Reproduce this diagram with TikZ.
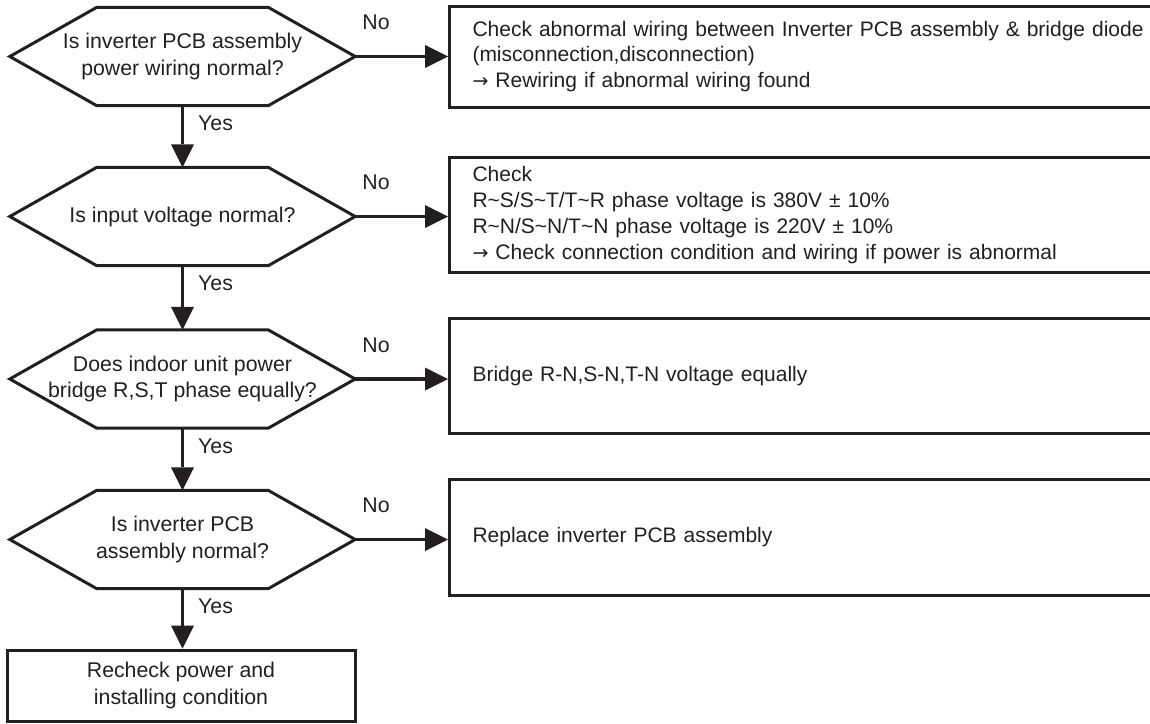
\documentclass[tikz,border=0pt]{standalone}
\usepackage{fontspec}
\setmainfont{Liberation Sans}
\newfontfamily\symfont{DejaVu Sans}
\usetikzlibrary{arrows.meta,calc}
\definecolor{ink}{RGB}{35,31,32}
% arrow used at the start of the action lines
\newcommand{\actarrow}{{\symfont\fontsize{19}{26}\selectfont →}}
\begin{document}
\begin{tikzpicture}[x=1pt,y=-1pt,
  every node/.style={font=\fontsize{21.3}{26.5}\selectfont, text=ink},
  decision/.style={minimum width=345pt, minimum height=98pt, inner sep=0pt, align=center},
  hexline/.style={draw=ink, line width=3pt, line join=miter},
  action/.style={draw=ink, line width=3pt, anchor=west, inner xsep=23pt, inner ysep=0pt,
    text width=760pt, align=left, font=\fontsize{21}{25.8}\selectfont},
  finalbox/.style={draw=ink, line width=3pt, minimum width=348pt, minimum height=71pt,
    inner sep=0pt, align=center},
  flow/.style={draw=ink, line width=3.8pt,
    -{Triangle[length=23pt,width=23pt,line width=0pt]}},
  lbl/.style={inner sep=0pt, anchor=west}]

\useasboundingbox (0,0) rectangle (1150,723);

% decisions
\node[decision] (d1) at (182.5,56.5) {Is inverter PCB assembly\\power wiring normal?};
\node[decision] (d2) at (182.5,216.5) {Is input voltage normal?};
\node[decision] (d3) at (182.5,379) {Does indoor unit power\\bridge R,S,T phase equally?};
\node[decision] (d4) at (182.5,539.5) {Is inverter PCB\\assembly normal?};

% hexagon outlines of the decisions
\foreach \n in {d1,d2,d3,d4}
  \draw[hexline] (\n.west) -- ([xshift=87pt]\n.north west) -- ([xshift=-87pt]\n.north east)
    -- (\n.east) -- ([xshift=-87pt]\n.south east) -- ([xshift=87pt]\n.south west) -- cycle;

% final box
\node[finalbox] (e) at (181,685.5) {Recheck power and\\installing condition};

% actions on the "No" branches
\node[action, minimum height=101pt] (a1) at (448,56.5)
  {Check abnormal wiring between Inverter PCB assembly \& bridge diode\\
   (misconnection,disconnection)\\
   \actarrow\ Rewiring if abnormal wiring found};
\node[action, minimum height=115pt] (a2) at (448,215)
  {Check\\
   R\textasciitilde S/S\textasciitilde T/T\textasciitilde R phase voltage is 380V ± 10\%\\
   R\textasciitilde N/S\textasciitilde N/T\textasciitilde N phase voltage is 220V ± 10\%\\
   \actarrow\ Check connection condition and wiring if power is abnormal};
\node[action, minimum height=115pt] (a3) at (448,376)
  {Bridge R-N,S-N,T-N voltage equally};
\node[action, minimum height=116pt] (a4) at (448,537)
  {Replace inverter PCB assembly};

% connectors
\draw[flow] (d1.east) -- (d1.east -| a1.west);
\draw[flow] (d2.east) -- (d2.east -| a2.west);
\draw[flow] (d3.east) -- (d3.east -| a3.west);
\draw[flow] (d4.east) -- (d4.east -| a4.west);
\draw[flow] (d1.south) -- (d2.north);
\draw[flow] (d2.south) -- (d3.north);
\draw[flow] (d3.south) -- (d4.north);
\draw[flow] (d4.south) -- (d4.south |- e.north);

% branch labels
\foreach \n/\k in {d1/1,d2/2,d3/3,d4/4} {
  \node[lbl] (no\k) at ([xshift=7pt,yshift=34pt]\n.east) {No};
  \node[lbl] (yes\k) at ([xshift=15.5pt,yshift=-18pt]\n.south) {Yes};
}
\end{tikzpicture}
\end{document}
